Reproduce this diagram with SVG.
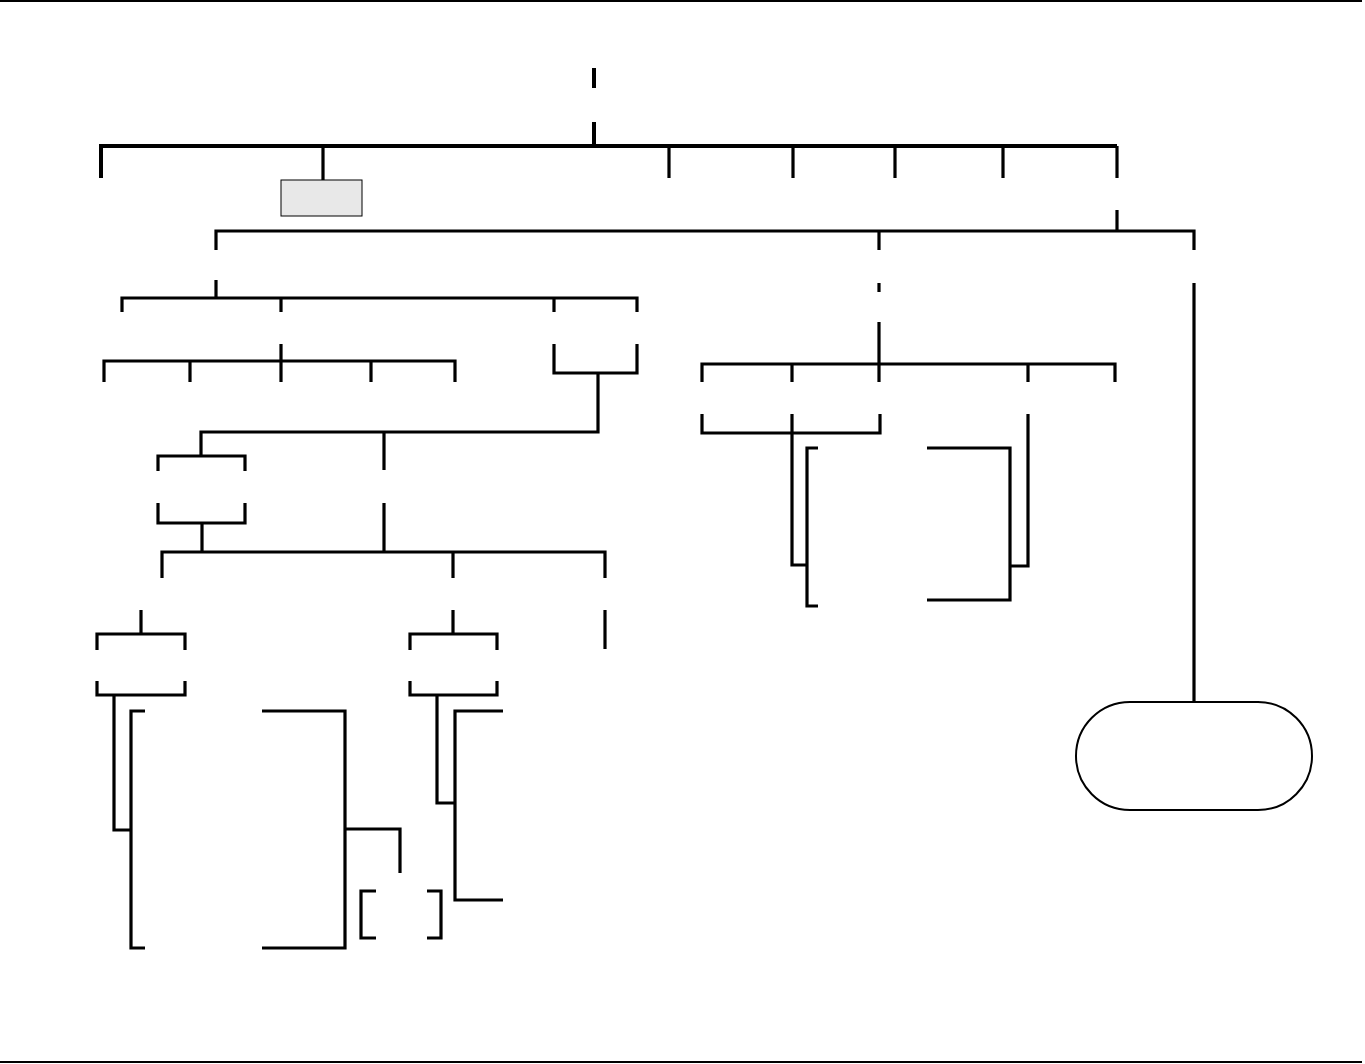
<svg xmlns="http://www.w3.org/2000/svg" width="1365" height="1064" viewBox="0 0 1365 1064">
<style>
.c{fill:none;stroke:#000;stroke-width:3.2;stroke-linejoin:miter;stroke-linecap:butt}
.b{stroke-width:4}
.f{fill:none;stroke:#000;stroke-width:2}
.box{fill:#e8e8e8;stroke:#000;stroke-width:1}
.term{fill:#fff;stroke:#000;stroke-width:2}
</style>
<rect width="1365" height="1064" fill="#fff"/>
<g id="frame">
<path class="f" d="M0 1H1362M0 1062H1362"/>
</g>
<g id="connectors">
<path class="c b" d="M594 68V88M594 122V146"/>
<path class="c b" d="M101 178V146H1117"/>
<path class="c" d="M1117 146V178"/>
<path class="c" d="M323 146V180M669 146V178M793 146V178M895 146V178M1003 146V178"/>
<path class="c" d="M1117 210V231"/>
<path class="c" d="M216 250V231H1194V250M879 231V250"/>
<path class="c" d="M216 280V298"/>
<path class="c" d="M122 312V298H637V312M281 298V312M554 298V312"/>
<path class="c" d="M281 344V382M104 382V361H455V382M190 361V382M371 361V382"/>
<path class="c" d="M554 344V373H637V344M598 373V432H201V456M384 432V470"/>
<path class="c" d="M158 471V456H245V471"/>
<path class="c" d="M158 503V523H245V503M202 523V552"/>
<path class="c" d="M384 503V552"/>
<path class="c" d="M162 578V552H605V578M453 552V578"/>
<path class="c" d="M141 610V634"/>
<path class="c" d="M97 650V634H185V650"/>
<path class="c" d="M97 681V695H185V681M114 695V830H131"/>
<path class="c" d="M145 711H131V948H145"/>
<path class="c" d="M262 711H345V948H262M345 829H400V873"/>
<path class="c" d="M376 891H361V938H376M427 891H441V938H427"/>
<path class="c" d="M453 610V634"/>
<path class="c" d="M410 650V634H497V650"/>
<path class="c" d="M410 681V695H497V681M437 695V803H455"/>
<path class="c" d="M503 711H455V900H503"/>
<path class="c" d="M605 610V649"/>
<path class="c" d="M879 283V292M879 322V382"/>
<path class="c" d="M702 382V364H1115V382M792 364V382M1028 364V382"/>
<path class="c" d="M702 414V433H880V414M792 414V565H807"/>
<path class="c" d="M818 448H807V606H818"/>
<path class="c" d="M927 448H1010V600H927M1010 566H1028V414"/>
<path class="c" d="M1194 283V702"/>
</g>
<g id="node-box">
<rect class="box" x="281" y="180" width="81" height="36"/>
</g>
<g id="node-terminal">
<rect class="term" x="1076" y="702" width="236" height="108" rx="54" ry="54"/>
</g>
</svg>
